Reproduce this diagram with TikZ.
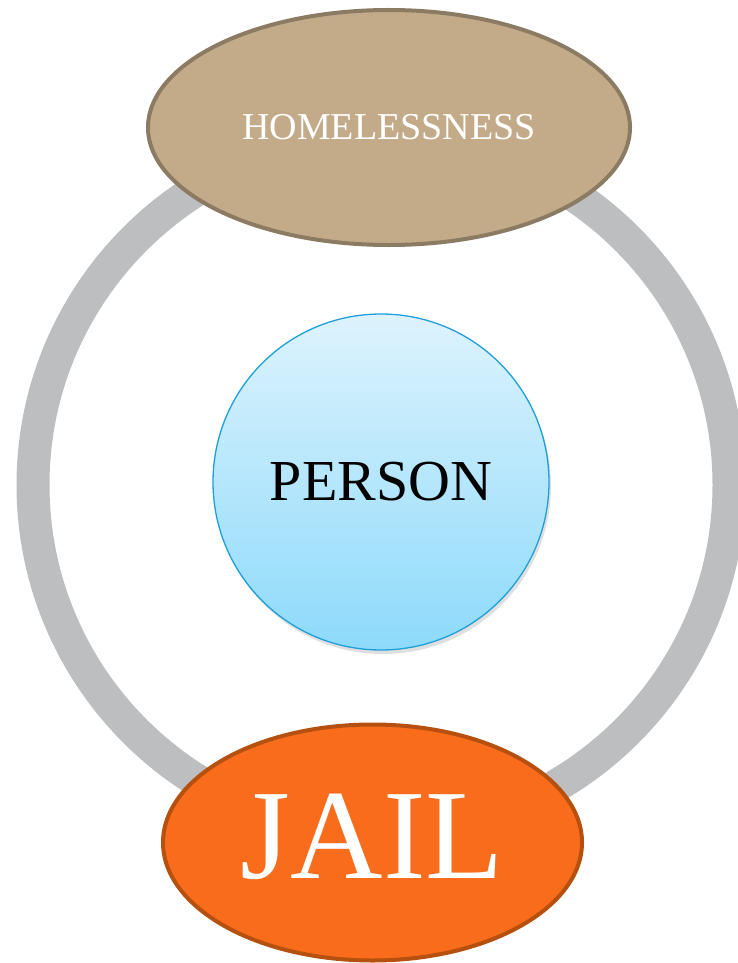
\documentclass[tikz,border=0pt]{standalone}
\usepackage{fontspec}
\setmainfont{Liberation Serif}
\usetikzlibrary{shapes.geometric,shadows}
\definecolor{ringgray}{HTML}{BDBEC0}
\definecolor{homefill}{HTML}{C3AB8A}
\definecolor{homedraw}{HTML}{8B7B63}
\definecolor{jailfill}{HTML}{F86C1C}
\definecolor{jaildraw}{HTML}{B5500F}
\definecolor{ptop}{HTML}{DDF3FD}
\definecolor{pbot}{HTML}{8DDAFB}
\definecolor{pdraw}{HTML}{1E9FD8}
\tikzset{
  ovalbox/.style={ellipse, inner sep=0pt, line width=4pt},
}
\begin{document}
\begin{tikzpicture}[x=1pt,y=-1pt]
\useasboundingbox (0,0) rectangle (738,963);
\clip (0,0) rectangle (738,963);
\coordinate (c) at (381,485);
\draw[ringgray, line width=33pt] (c) circle[radius=348];
\node[ovalbox, draw=homedraw, fill=homefill, minimum width=482pt, minimum height=235pt, font=\fontsize{38}{40}\selectfont, text=white] (home) at (389,127.5) {HOMELESSNESS};
\node[ovalbox, draw=jaildraw, fill=jailfill, minimum width=419pt, minimum height=236pt] (jail) at (372.5,842.5) {};
\node[font=\fontsize{128}{130}\selectfont, text=white, inner sep=0pt] (jailtext) at ([yshift=6pt]jail.center) {JAIL};
\node[circle, minimum size=336pt, inner sep=0pt, draw=pdraw, line width=1.3pt, top color=ptop, bottom color=pbot, drop shadow={shadow xshift=2pt, shadow yshift=-4pt, opacity=0.25}, font=\fontsize{58}{60}\selectfont] (person) at (381,482) {PERSON};
\end{tikzpicture}
\end{document}
